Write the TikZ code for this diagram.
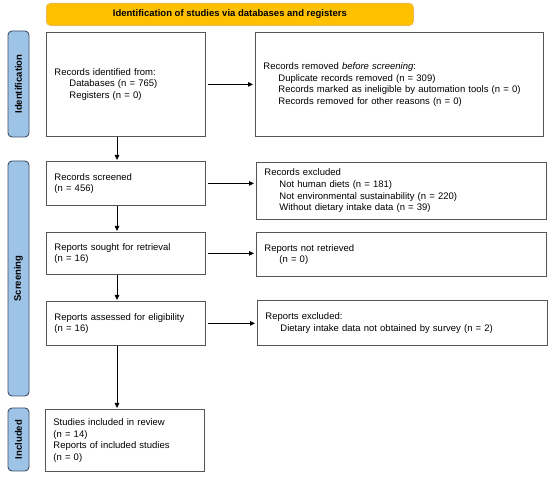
\documentclass[tikz,border=0pt]{standalone}
\usepackage{fontspec}
\setmainfont{Liberation Sans}
\usetikzlibrary{arrows.meta,calc}
\definecolor{bannerfill}{RGB}{255,192,0}
\definecolor{bannerdraw}{RGB}{238,184,70}
\definecolor{sidefill}{RGB}{157,195,230}
\definecolor{sidedraw}{RGB}{62,78,104}
\definecolor{boxdraw}{RGB}{85,85,85}
\begin{document}
\begin{tikzpicture}[x=1pt,y=-1pt,
  txt/.style={font=\fontsize{9.5}{11.6}\selectfont},
  box/.style={draw=boxdraw, line width=0.8pt, fill=white, anchor=north west, align=left, inner xsep=8pt, inner ysep=0pt, txt},
  banner/.style={draw=bannerdraw, fill=bannerfill, line width=0.8pt, rounded corners=4pt, anchor=north west, inner sep=0pt, font=\fontsize{9.5}{11}\selectfont\bfseries},
  side/.style={draw=sidedraw, fill=sidefill, line width=0.9pt, rounded corners=4pt, rotate=90, inner sep=0pt, minimum height=21pt, font=\fontsize{9.5}{11}\selectfont\bfseries},
  arr/.style={-{Triangle[length=5pt,width=4.5pt]}, line width=0.8pt, black},
  harr/.style={arr, shorten <=2pt, shorten >=2pt}
]
\useasboundingbox (0,0) rectangle (550,478);
\coordinate (ax) at (117,0);

\node[banner, minimum width=367pt, minimum height=22pt] (ban) at (46,3) {Identification of studies via databases and registers};

\node[side, minimum width=106pt] (sid) at (18.5,84) {Identification};
\node[side, minimum width=235pt] (sscr) at (18.5,278.5) {Screening};
\node[side, minimum width=63pt] (sinc) at (18.5,439.5) {Included};

\node[box, text width=143pt, minimum height=104pt] (ident) at (46,32)
  {Records identified from:\\\hspace*{15pt}Databases (n = 765)\\\hspace*{15pt}Registers (n = 0)};
\node[box, text width=272pt, minimum height=104pt] (rem) at (255,32)
  {Records removed \textit{before screening}:\\\hspace*{15pt}Duplicate records removed (n = 309)\\\hspace*{15pt}Records marked as ineligible by automation tools (n = 0)\\\hspace*{15pt}Records removed for other reasons (n = 0)};

\node[box, text width=143pt, minimum height=44pt] (scr) at (46,161)
  {Records screened\\(n = 456)};
\node[box, text width=274pt, minimum height=57pt] (exc) at (256,162)
  {Records excluded\\\hspace*{15pt}Not human diets (n = 181)\\\hspace*{15pt}Not environmental sustainability (n = 220)\\\hspace*{15pt}Without dietary intake data (n = 39)};

\node[box, text width=143pt, minimum height=42pt] (sou) at (46,232)
  {Reports sought for retrieval\\(n = 16)};
\node[box, text width=274pt, minimum height=44pt] (nre) at (256,232)
  {Reports not retrieved\\\hspace*{15pt}(n = 0)};

\node[box, text width=143pt, minimum height=44pt] (ass) at (46,301)
  {Reports assessed for eligibility\\(n = 16)};
\node[box, text width=274pt, minimum height=45pt] (rex) at (257,300)
  {Reports excluded:\\\hspace*{15pt}Dietary intake data not obtained by survey (n = 2)};

\node[box, text width=143pt, minimum height=62pt] (inc) at (45,409)
  {Studies included in review\\(n = 14)\\Reports of included studies\\(n = 0)};

\draw[arr, shorten >=1pt] (ident.south -| ax) -- (scr.north -| ax);
\draw[arr, shorten >=1pt] (scr.south -| ax) -- (sou.north -| ax);
\draw[arr, shorten >=1pt] (sou.south -| ax) -- (ass.north -| ax);
\draw[arr, shorten >=1pt] (ass.south -| ax) -- (inc.north -| ax);

\draw[harr] (ident.east) -- (ident.east -| rem.west);
\draw[harr] (scr.east) -- (scr.east -| exc.west);
\draw[harr] (sou.east) -- (sou.east -| nre.west);
\draw[harr] (ass.east) -- (ass.east -| rex.west);
\end{tikzpicture}
\end{document}
